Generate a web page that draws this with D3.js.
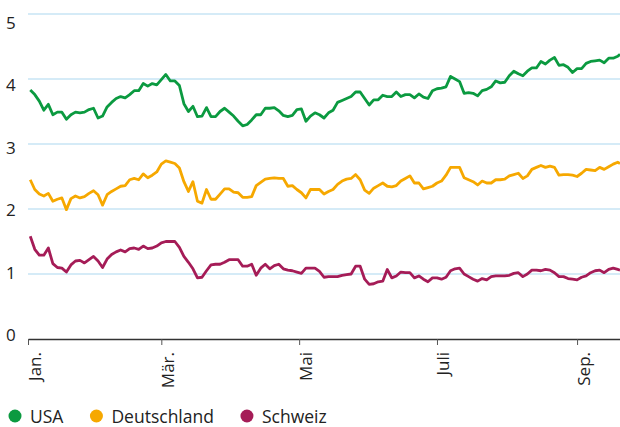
<!DOCTYPE html>
<html>
<head>
<meta charset="utf-8">
<script src="https://cdn.jsdelivr.net/npm/d3@7"></script>
<style>
  body { margin: 0; background: #fff; }
  svg { display: block; font-family: "Open Sans", sans-serif; }
</style>
</head>
<body>
<div id="chart"></div>
<script>
// every second calendar day, 2023
const dates = [
  "01-02","01-04","01-06","01-08","01-10","01-12","01-14","01-16","01-18","01-20","01-22","01-24","01-26","01-28","01-30",
  "02-01","02-03","02-05","02-07","02-09","02-11","02-13","02-15","02-17","02-19","02-21","02-23","02-25","02-27",
  "03-01","03-03","03-05","03-07","03-09","03-11","03-13","03-15","03-17","03-19","03-21","03-23","03-25","03-27","03-29","03-31",
  "04-02","04-04","04-06","04-08","04-10","04-12","04-14","04-16","04-18","04-20","04-22","04-24","04-26","04-28","04-30",
  "05-02","05-04","05-06","05-08","05-10","05-12","05-14","05-16","05-18","05-20","05-22","05-24","05-26","05-28","05-30",
  "06-01","06-03","06-05","06-07","06-09","06-11","06-13","06-15","06-17","06-19","06-21","06-23","06-25","06-27","06-29",
  "07-01","07-03","07-05","07-07","07-09","07-11","07-13","07-15","07-17","07-19","07-21","07-23","07-25","07-27","07-29","07-31",
  "08-02","08-04","08-06","08-08","08-10","08-12","08-14","08-16","08-18","08-20","08-22","08-24","08-26","08-28","08-30",
  "09-01","09-03","09-05","09-07","09-09","09-11","09-13","09-15","09-17","09-19","09-20"
];

const usa = [
  3.83,3.76,3.66,3.52,3.61,3.45,3.49,3.49,3.38,3.45,3.49,3.48,3.49,3.53,3.55,
  3.40,3.43,3.57,3.64,3.70,3.73,3.71,3.76,3.82,3.82,3.93,3.89,3.93,3.91,
  3.99,4.07,3.97,3.97,3.90,3.62,3.50,3.58,3.42,3.43,3.56,3.42,3.42,3.50,3.55,3.49,
  3.43,3.35,3.28,3.30,3.37,3.45,3.45,3.55,3.55,3.56,3.51,3.44,3.42,3.44,3.53,
  3.54,3.35,3.43,3.48,3.45,3.40,3.48,3.52,3.64,3.67,3.70,3.73,3.80,3.80,3.70,
  3.60,3.68,3.68,3.75,3.73,3.73,3.80,3.73,3.76,3.76,3.71,3.77,3.72,3.70,3.82,
  3.85,3.86,3.88,4.04,4.00,3.96,3.78,3.79,3.78,3.74,3.82,3.84,3.88,3.97,3.94,3.95,
  4.05,4.12,4.08,4.05,4.12,4.17,4.17,4.27,4.23,4.29,4.33,4.21,4.22,4.18,4.10,
  4.16,4.16,4.24,4.27,4.28,4.29,4.25,4.32,4.32,4.35,4.38
];

const deutschland = [
  2.45,2.30,2.23,2.20,2.24,2.12,2.15,2.17,1.99,2.16,2.20,2.17,2.19,2.24,2.28,
  2.22,2.06,2.22,2.27,2.31,2.35,2.36,2.45,2.47,2.45,2.54,2.48,2.52,2.57,
  2.69,2.74,2.72,2.70,2.63,2.42,2.27,2.42,2.12,2.09,2.30,2.15,2.15,2.23,2.31,2.31,
  2.26,2.25,2.18,2.18,2.19,2.36,2.41,2.46,2.47,2.48,2.47,2.47,2.35,2.36,2.30,
  2.25,2.17,2.30,2.30,2.30,2.23,2.27,2.30,2.38,2.43,2.46,2.47,2.53,2.45,2.29,
  2.24,2.32,2.36,2.40,2.35,2.34,2.36,2.43,2.47,2.51,2.40,2.40,2.31,2.33,2.35,
  2.40,2.43,2.52,2.64,2.64,2.64,2.48,2.45,2.42,2.37,2.43,2.40,2.40,2.45,2.45,2.46,
  2.51,2.53,2.55,2.47,2.51,2.61,2.64,2.67,2.64,2.66,2.64,2.52,2.53,2.53,2.52,
  2.50,2.55,2.61,2.60,2.59,2.64,2.61,2.65,2.69,2.72,2.70
];

const schweiz = [
  1.58,1.38,1.29,1.29,1.40,1.16,1.10,1.09,1.03,1.14,1.20,1.21,1.17,1.22,1.27,
  1.20,1.10,1.23,1.30,1.34,1.37,1.34,1.39,1.40,1.38,1.43,1.39,1.40,1.43,
  1.48,1.50,1.50,1.50,1.41,1.27,1.18,1.08,0.94,0.95,1.05,1.14,1.15,1.15,1.18,1.22,
  1.22,1.22,1.12,1.12,1.15,0.98,1.09,1.15,1.08,1.13,1.15,1.08,1.06,1.05,1.03,
  1.01,1.09,1.09,1.09,1.04,0.95,0.96,0.96,0.96,0.98,0.99,1.00,1.12,1.12,0.92,
  0.84,0.85,0.88,0.89,1.07,0.94,0.97,1.03,1.02,1.02,0.94,0.97,0.92,0.88,0.94,
  0.94,0.92,0.95,1.05,1.08,1.09,1.00,0.96,0.92,0.89,0.93,0.91,0.96,0.97,0.97,0.97,
  0.98,1.01,1.02,0.96,1.00,1.06,1.06,1.05,1.07,1.06,1.02,0.96,0.96,0.93,0.92,
  0.91,0.95,0.97,1.02,1.05,1.06,1.02,1.07,1.09,1.07,1.06
];

const seriesNames = ["USA", "Deutschland", "Schweiz"];
const seriesColors = ["#0b9a40", "#f6a800", "#a51c57"];
const monthLabels = ["Jan.", "Mär.", "Mai", "Juli", "Sep."];
const yTicks = [0, 1, 2, 3, 4, 5];

const width = 620, height = 427;
const margin = {top: 14, right: 0, bottom: 88, left: 28};

const parseDate = d3.timeParse("%Y-%m-%d");
const days = dates.map(function(d){ return parseDate("2023-" + d); });

const x = d3.scaleTime()
    .domain([new Date(2023, 0, 1), new Date(2023, 8, 20)])
    .range([margin.left, width - margin.right]);

const y = d3.scaleLinear()
    .domain([0, 5])
    .range([height - margin.bottom, margin.top]);

// tick labels sit a bit inside the grid lines
const yLabel = d3.scaleLinear()
    .domain([0, 5])
    .range([334.5, 22]);

const svg = d3.select('#chart').append('svg')
    .attr('width', width)
    .attr('height', height);

// grid
svg.append('g')
    .attr('class', 'grid')
    .selectAll('line')
    .data(yTicks.filter(function(t){ return t > 0; }))
    .enter().append('line')
    .attr('x1', margin.left)
    .attr('x2', width - margin.right)
    .attr('y1', function(d){ return y(d); })
    .attr('y2', function(d){ return y(d); })
    .attr('stroke', '#acd8f0')
    .attr('stroke-width', 1.2);

svg.append('g')
    .attr('class', 'y labels')
    .selectAll('text')
    .data(yTicks)
    .enter().append('text')
    .attr('x', 6)
    .attr('y', function(d){ return yLabel(d); })
    .attr('dominant-baseline', 'central')
    .attr('font-size', 17)
    .attr('fill', '#222')
    .text(function(d){ return d; });

// x axis
const monthTicks = d3.timeMonth.every(2).range(new Date(2023, 0, 1), new Date(2023, 8, 20));

const xAxis = d3.axisBottom(x)
    .tickValues(monthTicks)
    .tickSize(6)
    .tickSizeOuter(0)
    .tickFormat(function(d, i){ return monthLabels[i]; });

const gx = svg.append('g')
    .attr('class', 'x axis')
    .attr('transform', 'translate(0,' + y(0) + ')')
    .call(xAxis);

gx.select('.domain').attr('stroke', '#333').attr('stroke-width', 1.5);
gx.selectAll('.tick line').attr('stroke', '#555').attr('stroke-width', 1);
gx.selectAll('text')
    .attr('font-family', '"Open Sans", sans-serif')
    .attr('font-size', 17)
    .attr('fill', '#222')
    .attr('dy', null)
    .attr('transform', 'rotate(-90)')
    .attr('text-anchor', 'end')
    .attr('x', -13)
    .attr('y', 12);

// lines
const line = d3.line()
    .x(function(d){ return x(d[0]); })
    .y(function(d){ return y(d[1]); });

const seriesData = [usa, deutschland, schweiz];

svg.append('g')
    .attr('class', 'lines')
    .selectAll('path')
    .data(seriesData)
    .enter().append('path')
    .attr('fill', 'none')
    .attr('stroke', function(d, i){ return seriesColors[i]; })
    .attr('stroke-width', 2.8)
    .attr('stroke-linejoin', 'round')
    .attr('d', function(vals){
        return line(vals.map(function(v, i){ return [days[i], v]; }));
    });

// legend
const legend = svg.append('g').attr('class', 'legend');
let cx = 15;
seriesNames.forEach(function(name, i){
    legend.append('circle')
        .attr('cx', cx)
        .attr('cy', 416)
        .attr('r', 6.5)
        .attr('fill', seriesColors[i]);
    const t = legend.append('text')
        .attr('x', cx + 15)
        .attr('y', 416)
        .attr('dominant-baseline', 'central')
        .attr('font-size', 17.5)
        .attr('fill', '#222')
        .text(name);
    cx = cx + 15 + t.node().getComputedTextLength() + 33;
});
</script>
</body>
</html>
